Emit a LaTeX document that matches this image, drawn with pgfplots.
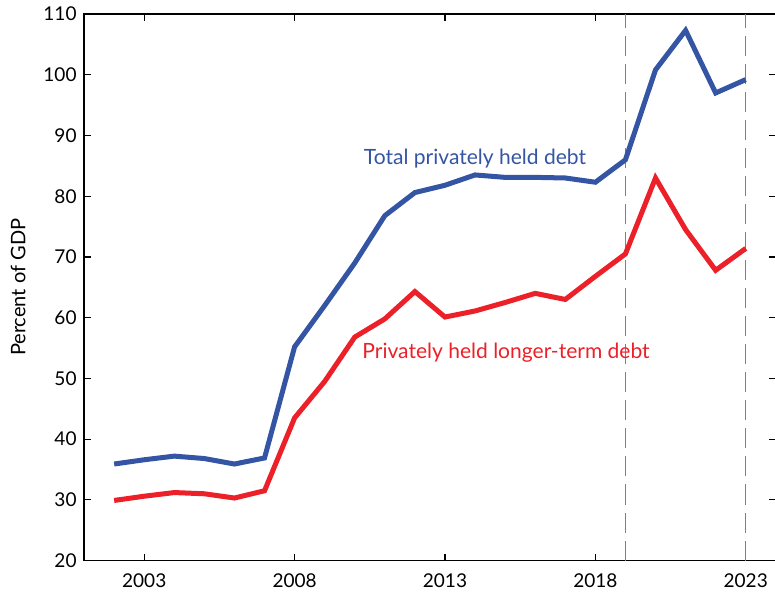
\documentclass[border=0pt]{standalone}
\usepackage{pgfplots}
\pgfplotsset{compat=1.18}
\usepackage{fontspec}
\setmainfont{Lato}
\usetikzlibrary{calc}
\definecolor{totblue}{RGB}{52,84,164}
\definecolor{longred}{RGB}{236,32,40}
\definecolor{dashgray}{RGB}{128,128,128}
\begin{document}
\begin{tikzpicture}
\begin{axis}[
    scale only axis,
    width=691pt, height=546pt,
    xmin=2001, xmax=2024,
    ymin=20, ymax=110,
    xtick={2003,2008,2013,2018,2023},
    ytick={20,30,...,110},
    tick align=inside,
    major tick length=7pt,
    tick style={black, line width=1.2pt},
    axis line style={line width=1.5pt},
    /pgf/number format/assume math mode=true,
    /pgf/number format/1000 sep={},
    tick label style={font=\fontsize{19}{21}\selectfont},
    xticklabel style={yshift=-10pt},
    yticklabel style={xshift=-4pt},
    ylabel={Percent of GDP},
    ylabel style={font=\fontsize{20}{22}\selectfont, yshift=11pt},
    clip=false,
]
\addplot[dashgray, line width=1.4pt, dash pattern=on 20pt off 8pt] coordinates {(2019,20) (2019,110)};
\addplot[dashgray, line width=1.4pt, dash pattern=on 20pt off 8pt] coordinates {(2023,20) (2023,110)};
\addplot[totblue, line width=5pt, line join=miter] coordinates {
(2002,35.9) (2003,36.6) (2004,37.2) (2005,36.8) (2006,35.9) (2007,36.9)
(2008,55.2) (2009,62.0) (2010,69.0) (2011,76.8) (2012,80.6) (2013,81.8)
(2014,83.5) (2015,83.1) (2016,83.1) (2017,83.0) (2018,82.3) (2019,86.0)
(2020,100.8) (2021,107.3) (2022,97.0) (2023,99.2)};
\addplot[longred, line width=5pt, line join=miter] coordinates {
(2002,29.9) (2003,30.6) (2004,31.2) (2005,31.0) (2006,30.3) (2007,31.5)
(2008,43.5) (2009,49.5) (2010,56.8) (2011,59.8) (2012,64.3) (2013,60.1)
(2014,61.1) (2015,62.5) (2016,64.0) (2017,63.0) (2018,66.8) (2019,70.5)
(2020,83.0) (2021,74.5) (2022,67.8) (2023,71.4)};
\node[totblue, anchor=west, inner sep=0pt, font=\fontsize{21}{23}\selectfont] at (axis cs:2010.3,86.2) {Total privately held debt};
\node[longred, anchor=west, inner sep=0pt, font=\fontsize{21}{23}\selectfont] at (axis cs:2010.25,54.2) {Privately held longer-term debt};
\end{axis}
\pgfresetboundingbox
\path[use as bounding box] ($(current axis.south west)+(-84pt,-41pt)$) rectangle ($(current axis.north east)+(-0.8pt,14pt)$);
\end{tikzpicture}
\end{document}
